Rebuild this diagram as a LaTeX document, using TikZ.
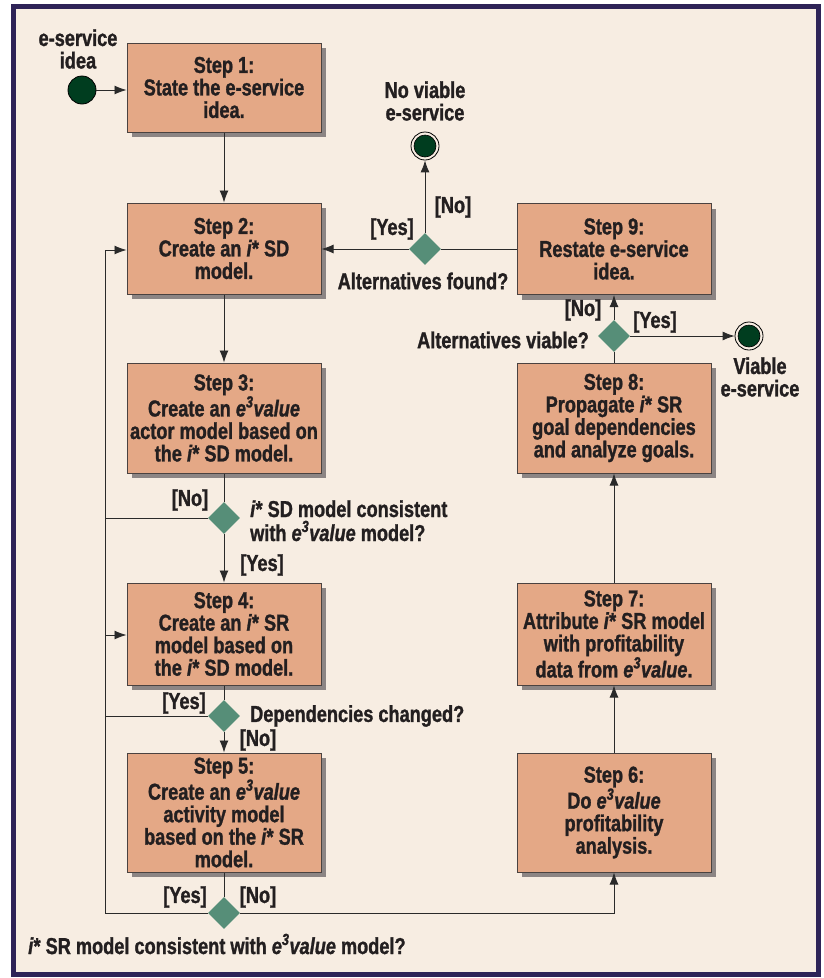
\documentclass[tikz,border=0pt]{standalone}
\usepackage{fontspec}
\setmainfont{Liberation Sans}[FakeStretch=0.79, BoldFeatures={FakeBold=1.2}, BoldItalicFeatures={FakeBold=1.2}]
\usetikzlibrary{shapes.geometric,arrows.meta,shadows}
\definecolor{bgc}{HTML}{F7EDE2}
\definecolor{framec}{HTML}{2E2357}
\definecolor{boxfill}{HTML}{E4A886}
\definecolor{boxline}{HTML}{4A4240}
\definecolor{shadowc}{HTML}{8C8584}
\definecolor{decfill}{HTML}{568E78}
\definecolor{dkgreen}{HTML}{003D1F}
\definecolor{txt}{HTML}{231F20}
\definecolor{lin}{HTML}{2A2A2A}
\newcommand{\ethreev}{\textit{e\textsuperscript{3}value}}
\begin{document}
\begin{tikzpicture}[x=1pt,y=-1pt,
  font=\fontsize{23}{22.5}\selectfont\bfseries,
  stepbox/.style={draw=boxline, line width=1pt, fill=boxfill, text=txt, align=center,
    minimum width=194pt, inner sep=0pt,
    drop shadow={shadow xshift=5pt, shadow yshift=-5pt, fill=shadowc, opacity=1}},
  dec/.style={diamond, fill=decfill, minimum width=32pt, minimum height=32pt, inner sep=0pt},
  startc/.style={circle, fill=dkgreen, draw=black, line width=0.8pt, minimum size=28pt, inner sep=0pt},
  endc/.style={circle, draw=black, fill=bgc, line width=0.8pt, minimum size=28pt, inner sep=0pt,
    path picture={\filldraw[fill=dkgreen, draw=black, line width=0.6pt] (path picture bounding box.center) circle (11pt);}},
  lbl/.style={text=txt, inner sep=0pt, align=center},
  ln/.style={line width=0.9pt, draw=lin},
  arr/.style={ln, -{Latex[length=12pt,width=9pt]}}
]
\useasboundingbox (0,0) rectangle (824,978);
\fill[white] (0,0) rectangle (824,978);
\filldraw[fill=bgc, draw=framec, line width=5pt] (13.5,6) rectangle (818,974);

% steps
\node[stepbox, minimum height=89pt]  (s1) at (224,87.5) {Step 1:\\State the e-service\\idea.};
\node[stepbox, minimum height=91pt]  (s2) at (224,248.5) {Step 2:\\Create an \textit{i}* SD\\model.};
\node[stepbox, minimum height=110pt] (s3) at (224,418) {Step 3:\\Create an \ethreev\\actor model based on\\the \textit{i}* SD model.};
\node[stepbox, minimum height=102pt] (s4) at (224,634) {Step 4:\\Create an \textit{i}* SR\\model based on\\the \textit{i}* SD model.};
\node[stepbox, minimum height=119pt] (s5) at (224,812.5) {Step 5:\\Create an \ethreev\\activity model\\based on the \textit{i}* SR\\model.};
\node[stepbox, minimum height=119pt] (s6) at (614,812.5) {Step 6:\\Do \ethreev\\profitability\\analysis.};
\node[stepbox, minimum height=102pt] (s7) at (614,634) {Step 7:\\Attribute \textit{i}* SR model\\with profitability\\data from \ethreev.};
\node[stepbox, minimum height=110pt] (s8) at (614,418) {Step 8:\\Propagate \textit{i}* SR\\goal dependencies\\and analyze goals.};
\node[stepbox, minimum height=91pt]  (s9) at (614,249) {Step 9:\\Restate e-service\\idea.};

% decisions
\node[dec] (d1) at (224,518) {};
\node[dec] (d2) at (224,716) {};
\node[dec] (d3) at (224,913) {};
\node[dec] (d4) at (614,336) {};
\node[dec] (d5) at (425,249) {};

% start / end
\node[startc] (start) at (82,90) {};
\node[endc] (endno) at (425,146) {};
\node[endc] (endyes) at (749,336) {};

% loop coordinates
\coordinate (L0) at (105,250);
\coordinate (L1) at (105,518);
\coordinate (L2) at (105,716);
\coordinate (L3) at (105,913);
\coordinate (L4) at (105,635);

% connectors
\draw[arr] (start.east) -- (start.east -| s1.west);
\draw[arr] (s1) -- (s2);
\draw[arr] (s2) -- (s3);
\draw[ln] (s3) -- (d1);
\draw[arr] (d1) -- (s4);
\draw[ln] (s4) -- (d2);
\draw[arr] (d2) -- (s5);
\draw[ln] (s5) -- (d3);
\draw[ln] (d3.west) -- (L3) -- (L0);
\draw[arr] (L0) -- (L0 -| s2.west);
\draw[ln] (d1.west) -- (L1);
\draw[ln] (d2.west) -- (L2);
\draw[arr] (L4) -- (L4 -| s4.west);
\draw[arr] (d3.east) -| (s6.south);
\draw[arr] (s6) -- (s7);
\draw[arr] (s7) -- (s8);
\draw[ln] (s8) -- (d4);
\draw[arr] (d4) -- (s9);
\draw[arr] (d4.east) -- (endyes.west);
\draw[ln] (s9.west |- d5) -- (d5.east);
\draw[arr] (d5.west) -- (d5 -| s2.east);
\draw[arr] (d5.north) -- (endno.south);

% labels
\node[lbl] (tstart) at (78,49) {e-service\\idea};
\node[lbl] (tno) at (425,101) {No viable\\e-service};
\node[lbl] (tyes) at (760,377) {Viable\\e-service};
\node[lbl] (t5) at (423,281) {Alternatives found?};
\node[lbl] (t5y) at (392,229) {[Yes]};
\node[lbl] (t5n) at (453,207) {[No]};
\node[lbl] (t4n) at (583,310) {[No]};
\node[lbl] (t4y) at (655,322) {[Yes]};
\node[lbl, anchor=east] (t4) at (589,340) {Alternatives viable?};
\node[lbl] (t1n) at (190,500) {[No]};
\node[lbl, anchor=base west] (t1a) at (250,517) {\textit{i}* SD model consistent};
\node[lbl, anchor=base west] (t1b) at (250,541) {with \ethreev{} model?};
\node[lbl] (t1y) at (262,565) {[Yes]};
\node[lbl] (t2y) at (184,703) {[Yes]};
\node[lbl, anchor=west] (t2) at (250,716) {Dependencies changed?};
\node[lbl] (t2n) at (258,740) {[No]};
\node[lbl] (t3y) at (185,897) {[Yes]};
\node[lbl] (t3n) at (258,897) {[No]};
\node[lbl, anchor=west] (t3) at (28,944) {\textit{i}* SR model consistent with \ethreev{} model?};
\end{tikzpicture}
\end{document}
